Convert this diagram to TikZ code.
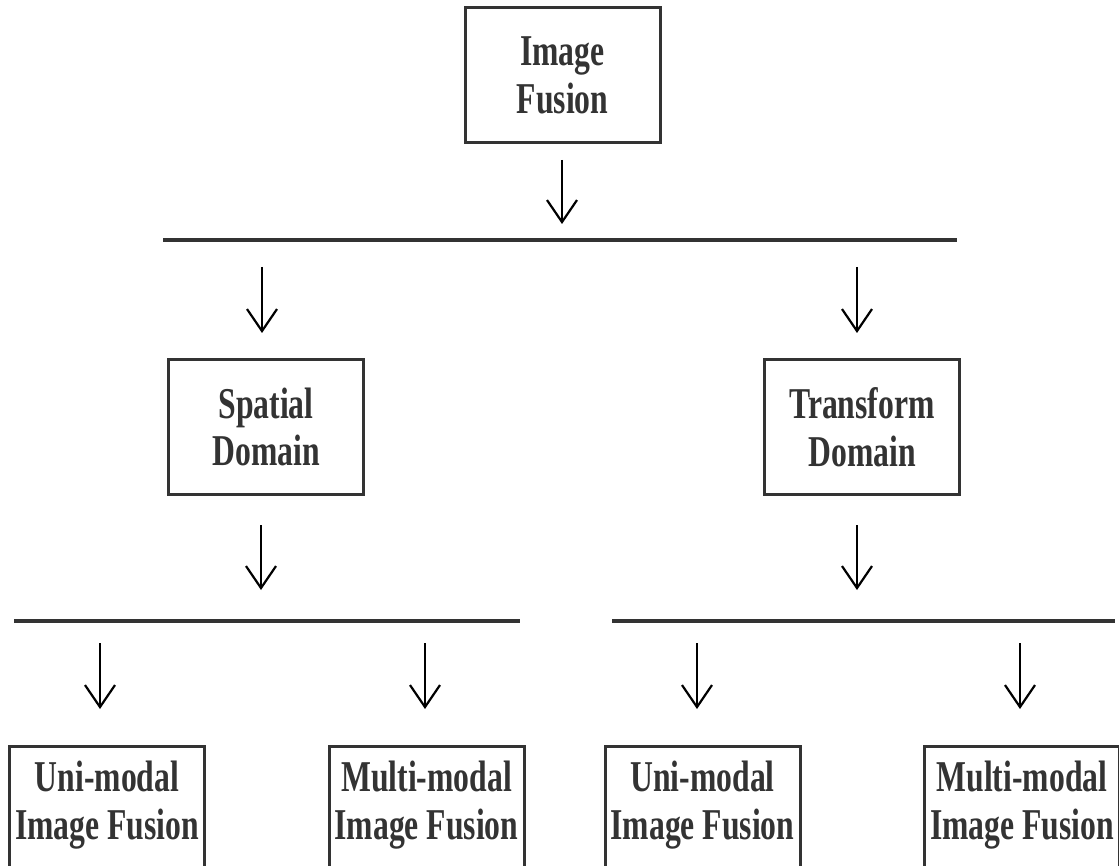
\documentclass[tikz,border=0pt]{standalone}
\usepackage{fontspec}
\newfontfamily\boxfont[FakeStretch=0.72]{Liberation Serif}
\usetikzlibrary{arrows.meta}
\definecolor{inkgray}{HTML}{333333}

\begin{document}
\begin{tikzpicture}[x=1pt,y=-1pt,
  box/.style={draw=inkgray, line width=3pt, minimum width=195pt,
    minimum height=135pt, inner sep=0pt, align=center, text=inkgray,
    font=\boxfont\bfseries\fontsize{44}{47.5}\selectfont},
  leafbox/.style={box, text depth=27pt},
  bar/.style={draw=inkgray, line width=3.5pt},
  down/.style={-{Straight Barb[length=22pt,width=30pt]}, line width=2.2pt, black}]

\useasboundingbox (0,0) rectangle (1119,866);
\clip (0,0) rectangle (1119,866);

% boxes
\node[box] (root) at (562.5,75.5) {Image\\Fusion};
\node[box] (spatial) at (266,427) {Spatial\\Domain};
\node[box] (transform) at (862,427) {Transform\\Domain};
\node[leafbox] (suni) at (107,813.5) {Uni-modal\\Image Fusion};
\node[leafbox] (smulti) at (426.5,813.5) {Multi-modal\\Image Fusion};
\node[leafbox] (tuni) at (702.5,813.5) {Uni-modal\\Image Fusion};
\node[leafbox] (tmulti) at (1022,813.5) {Multi-modal\\Image Fusion};

% distribution bars
\coordinate (b1l) at (163,240);
\coordinate (b1r) at (957,240);
\coordinate (b2l) at (14,621);
\coordinate (b2r) at (520,621);
\coordinate (b3l) at (612,621);
\coordinate (b3r) at (1115,621);
\draw[bar] (b1l) -- (b1r);
\draw[bar] (b2l) -- (b2r);
\draw[bar] (b3l) -- (b3r);

% arrow end points
\coordinate (a0s) at (562,160);  \coordinate (a0e) at (562,224);
\coordinate (a1s) at (262,267);  \coordinate (a1e) at (262,333);
\coordinate (a2s) at (857,267);  \coordinate (a2e) at (857,333);
\coordinate (a3s) at (261,525);  \coordinate (a3e) at (261,590);
\coordinate (a4s) at (857,525);  \coordinate (a4e) at (857,590);
\coordinate (a5s) at (100,643);  \coordinate (a5e) at (100,709);
\coordinate (a6s) at (425,643);  \coordinate (a6e) at (425,709);
\coordinate (a7s) at (697,643);  \coordinate (a7e) at (697,709);
\coordinate (a8s) at (1020,643); \coordinate (a8e) at (1020,709);

\foreach \k in {0,...,8} \draw[down] (a\k s) -- (a\k e);
\end{tikzpicture}
\end{document}
